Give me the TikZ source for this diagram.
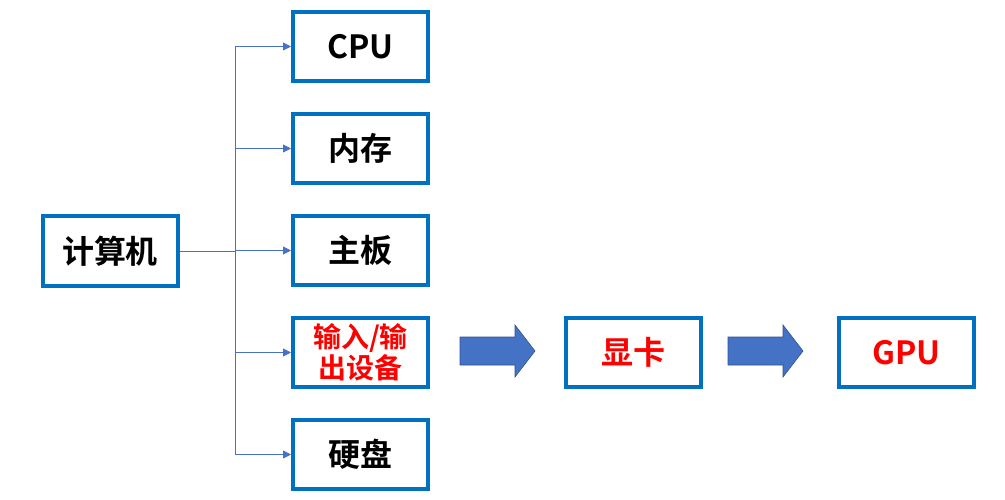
\documentclass[tikz,border=0pt]{standalone}
\usepackage{fontspec}
\setmainfont{Noto Sans CJK SC}[BoldFont={Noto Sans CJK SC Bold}]
\usetikzlibrary{arrows.meta}
\definecolor{bx}{RGB}{0,112,192}
\definecolor{ln}{RGB}{68,114,196}
\definecolor{ar}{RGB}{68,114,196}
\definecolor{ard}{RGB}{47,82,143}
\begin{document}
\begin{tikzpicture}[x=1pt,y=-1pt,
 box/.style={draw=bx,line width=4pt,minimum width=135pt,minimum height=69pt,inner sep=0pt,align=center,font=\fontsize{32}{34}\selectfont\bfseries},
 red/.style={text={rgb,255:red,255;green,0;blue,0}},
 con/.style={draw=ln,line width=0.8pt,-{Triangle[length=8pt,width=8pt]}}]
\useasboundingbox (0,0) rectangle (1005,500);
\node[box] (pc) at (110,251) {计算机};
\node[box] (cpu) at (360.5,46.5) {CPU};
\node[box] (mem) at (360.5,148.5) {内存};
\node[box] (mb) at (360.5,250.5) {主板};
\node[box,red,font=\fontsize{28}{31}\selectfont\bfseries] (io) at (360.5,352.5) {输入/输\\出设备};
\node[box] (hd) at (360.5,454.5) {硬盘};
\node[box,red] (gc) at (633.5,352.5) {显卡};
\node[box,red] (gpu) at (906.5,352.5) {GPU};
\coordinate (j) at (235,251);
\draw[draw=ln,line width=0.8pt] (pc.east) -- (j);
\draw[draw=ln,line width=0.8pt] (235,46.5) -- (235,454.5);
\foreach \n in {cpu,mem,mb,io,hd} \draw[con] (235,0 |- \n.west) -- (\n.west);
\foreach \a in {460,728} \filldraw[fill=ar,draw=ard,line width=0.6pt] (\a,337) -- (\a+55,337) -- (\a+55,325) -- (\a+75,351) -- (\a+55,377) -- (\a+55,365) -- (\a,365) -- cycle;
\end{tikzpicture}
\end{document}
